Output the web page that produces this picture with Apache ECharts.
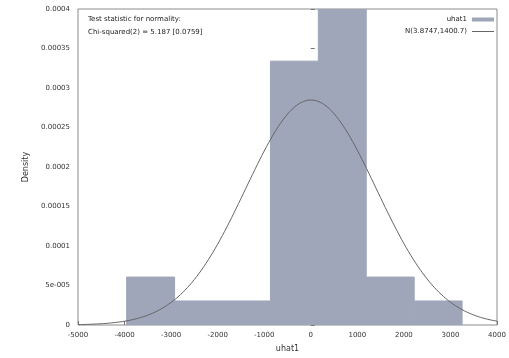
<!DOCTYPE html>
<html>
<head>
<meta charset="utf-8">
<script src="https://cdn.jsdelivr.net/npm/echarts@6/dist/echarts.min.js"></script>
<style>
html,body{margin:0;padding:0;background:#fff;}
#chart{width:509px;height:358px;}
</style>
</head>
<body>
<div id="chart"></div>
<script>
// Histogram of residuals (density scale), with bin edges and heights
const binEdges = [-3955, -2925, -1896, -867, 162, 1191, 2221, 3250];
const binDensity = [6.07e-5, 3.04e-5, 3.04e-5, 3.34e-4, 4.25e-4, 6.07e-5, 3.04e-5];

// Fitted normal distribution parameters (as stated in the legend)
const normMean = 3.8747;
const normSd = 1400.7;

// Axis ticks
const xTicks = [-5000, -4000, -3000, -2000, -1000, 0, 1000, 2000, 3000, 4000];
const yTickLabels = ['0', '5e-005', '0.0001', '0.00015', '0.0002', '0.00025', '0.0003', '0.00035', '0.0004'];

const histData = binDensity.map((d, i) => [binEdges[i], binEdges[i + 1], d]);

const curveData = [];
for (let x = -5000; x <= 4000; x += 50) {
  const z = (x - normMean) / normSd;
  curveData.push([x, Math.exp(-0.5 * z * z) / (normSd * Math.sqrt(2 * Math.PI))]);
}

const barColor = '#9fa6b9';
const curveName = 'N(' + normMean + ',' + normSd + ')';
const font = 'DejaVu Sans';
const chart = echarts.init(document.getElementById('chart'), null, {renderer: 'canvas'});
chart.setOption({
  animation: false,
  backgroundColor: '#fff',
  grid: {left: 78, right: 12, top: 9, bottom: 28, show: true, borderColor: '#8c8c8c', borderWidth: 1},
  xAxis: {
    type: 'value', min: -5000, max: 4000, interval: 1000,
    name: 'uhat1', nameLocation: 'middle', nameGap: 20,
    nameTextStyle: {fontFamily: font, fontSize: 8, color: '#333'},
    axisLine: {show: false},
    axisTick: {show: true, inside: true, length: 4, lineStyle: {color: '#777'}},
    splitLine: {show: false},
    axisLabel: {fontFamily: font, fontSize: 7, color: '#333', margin: 7,
      formatter: v => String(v)}
  },
  yAxis: {
    type: 'value', min: 0, max: 0.0004, interval: 0.00005,
    name: 'Density', nameLocation: 'middle', nameGap: 42,
    nameTextStyle: {fontFamily: font, fontSize: 8, color: '#333'},
    axisLine: {show: false},
    axisTick: {show: true, inside: true, length: 4, lineStyle: {color: '#777'}},
    splitLine: {show: false},
    axisLabel: {fontFamily: font, fontSize: 7, color: '#333', margin: 8,
      formatter: (v) => yTickLabels[Math.round(v / 0.00005)]}
  },
  legend: {
    right: 10, top: 11, orient: 'vertical', align: 'right',
    itemWidth: 22, itemHeight: 4, itemGap: 5, symbolKeepAspect: true,
    textStyle: {fontFamily: font, fontSize: 7, color: '#222'},
    data: [
      {name: 'uhat1', icon: 'rect'},
      {name: curveName, icon: 'path://M0,0H22V1H0Z'}
    ]
  },
  graphic: [{
    type: 'text', left: 88, top: 13,
    style: {text: 'Test statistic for normality:\nChi-squared(2) = 5.187 [0.0759]',
      font: '7px "DejaVu Sans"', fill: '#222', lineHeight: 13}
  }],
  series: [
    {
      name: 'uhat1', type: 'custom', clip: true,
      itemStyle: {color: barColor},
      renderItem: (params, api) => {
        const p0 = api.coord([api.value(0), api.value(2)]);
        const p1 = api.coord([api.value(1), 0]);
        const rect = echarts.graphic.clipRectByRect(
          {x: p0[0], y: p0[1], width: p1[0] - p0[0], height: p1[1] - p0[1]},
          {x: params.coordSys.x, y: params.coordSys.y, width: params.coordSys.width, height: params.coordSys.height});
        return rect && {type: 'rect', shape: rect, style: {fill: barColor, stroke: barColor, lineWidth: 1}};
      },
      encode: {x: [0, 1], y: 2},
      data: histData,
      z: 1
    },
    {
      name: curveName, type: 'line', symbol: 'none',
      lineStyle: {color: '#666', width: 1}, itemStyle: {color: '#666'},
      data: curveData, z: 3
    }
  ]
});
</script>
</body>
</html>
